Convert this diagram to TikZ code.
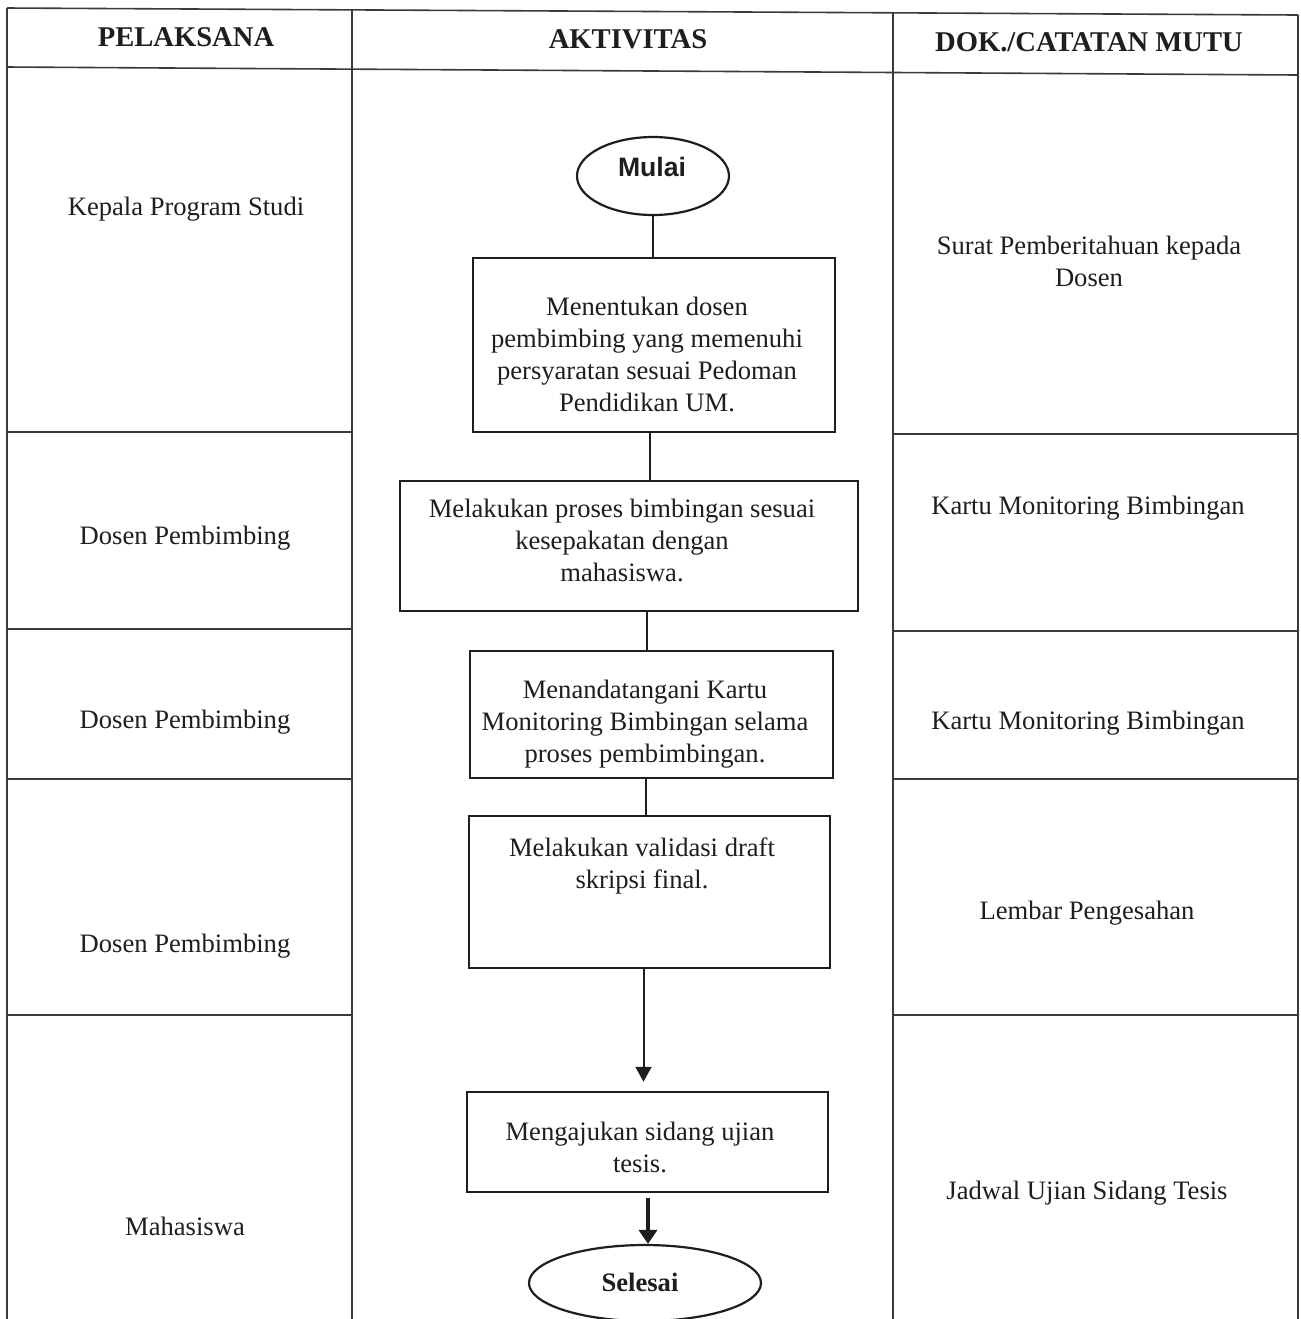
\documentclass[tikz,border=0pt]{standalone}
\usepackage{fontspec}
\setmainfont{Liberation Serif}
\newfontfamily\arialbold{Liberation Sans}
\usetikzlibrary{arrows.meta,calc,shapes.geometric}
\definecolor{ink}{HTML}{1E1E1E}
\definecolor{rule}{HTML}{3A3A3A}
\tikzset{
  gridline/.style={draw=rule,line width=0.8pt},
  procbox/.style={draw=ink,line width=1.25pt,rectangle,inner sep=0pt},
  terminal/.style={draw=ink,line width=1.1pt,ellipse,inner sep=0pt},
  txt/.style={text=ink,align=center,inner sep=0pt,font=\fontsize{13.3}{16}\selectfont},
  head/.style={text=ink,align=center,inner sep=0pt,font=\fontsize{14.3}{17}\selectfont\bfseries},
  conn/.style={draw=ink,line width=1pt},
  arr/.style={draw=ink,line width=1pt,-{Triangle[length=7.5pt,width=8pt]}},
  thickarr/.style={draw=ink,line width=2pt,-{Triangle[length=7pt,width=9pt]}}
}
\begin{document}
\begin{tikzpicture}[x=0.5pt,y=-0.5pt]
\useasboundingbox (0,0) rectangle (1301,1319);
\fill[white] (0,0) rectangle (1301,1319);
% table frame
\draw[gridline] (7,8) -- (1298,15);
\draw[gridline] (7,67) -- (1298,75);
\draw[gridline] (7,8) -- (7,1319);
\draw[gridline] (352,9) -- (352,1319);
\draw[gridline] (893,12) -- (893,1319);
\draw[gridline] (1298,15) -- (1298,1319);
% row lines left column
\draw[gridline] (7,432) -- (352,432);
\draw[gridline] (7,629) -- (352,629);
\draw[gridline] (7,779) -- (352,779);
\draw[gridline] (7,1015) -- (352,1015);
% row lines right column
\draw[gridline] (893,434) -- (1298,434);
\draw[gridline] (893,631) -- (1298,631);
\draw[gridline] (893,779) -- (1298,779);
\draw[gridline] (893,1015) -- (1298,1015);
% headers
\node[head] (hp) at (186,37) {PELAKSANA};
\node[head] (ha) at (628,39) {AKTIVITAS};
\node[head] (hd) at (1089,42) {DOK./CATATAN MUTU};
% left column
\node[txt] (p1) at (186,209) {Kepala Program Studi};
\node[txt] (p2) at (185,538) {Dosen Pembimbing};
\node[txt] (p3) at (185,722) {Dosen Pembimbing};
\node[txt] (p4) at (185,946) {Dosen Pembimbing};
\node[txt] (p5) at (185,1226) {Mahasiswa};
% right column
\node[txt] (d1) at (1089,261) {Surat Pemberitahuan kepada\\Dosen};
\node[txt] (d2) at (1088,508) {Kartu Monitoring Bimbingan};
\node[txt] (d3) at (1088,723) {Kartu Monitoring Bimbingan};
\node[txt] (d4) at (1087,913) {Lembar Pengesahan};
\node[txt] (d5) at (1087,1193) {Jadwal Ujian Sidang Tesis};
% flow
\node[terminal,minimum width=76pt,minimum height=39pt] (mulai) at (653,176) {};
\node[text=ink,inner sep=0pt,font=\arialbold\fontsize{13.3}{16}\selectfont\bfseries] (tmulai) at (652,167) {Mulai};
\node[procbox,minimum width=181pt,minimum height=87pt] (b1) at (654,345) {};
\node[txt] (t1) at (647,354) {Menentukan dosen\\pembimbing yang memenuhi\\persyaratan sesuai Pedoman\\Pendidikan UM.};
\node[procbox,minimum width=229pt,minimum height=65pt] (b2) at (629,546) {};
\node[txt] (t2) at (622,540) {Melakukan proses bimbingan sesuai\\kesepakatan dengan\\mahasiswa.};
\node[procbox,minimum width=181.5pt,minimum height=63.5pt] (b3) at (651.5,714.5) {};
\node[txt] (t3) at (645,724) {Menandatangani Kartu\\Monitoring Bimbingan selama\\proses pembimbingan.};
\node[procbox,minimum width=180.5pt,minimum height=76pt] (b4) at (649.5,892) {};
\node[txt] (t4) at (642,866) {Melakukan validasi draft\\skripsi final.};
\node[procbox,minimum width=180.5pt,minimum height=50pt] (b5) at (647.5,1142) {};
\node[txt] (t5) at (640,1147) {Mengajukan sidang ujian\\tesis.};
\node[terminal,minimum width=116pt,minimum height=38pt] (selesai) at (645,1283) {};
\node[text=ink,inner sep=0pt,font=\fontsize{13.3}{16}\selectfont\bfseries] (tsel) at (640,1282) {Selesai};
% connector start points
\coordinate (s1) at ($(b1.south)+(-4,0)$);
\coordinate (s2) at ($(b2.south)+(18,0)$);
\coordinate (s3) at ($(b3.south)+(-6,0)$);
\coordinate (s4) at ($(b4.south)+(-6,0)$);
\coordinate (s5) at ($(b5.south)+(0.5,0)$);
% connectors
\draw[conn] (mulai.south) -- (mulai.south |- b1.north);
\draw[conn] (s1) -- (s1 |- b2.north);
\draw[conn] (s2) -- (s2 |- b3.north);
\draw[conn] (s3) -- (s3 |- b4.north);
\draw[arr,shorten >=4.5pt] (s4) -- (s4 |- b5.north);
\draw[thickarr,shorten <=2.5pt] (s5) -- (s5 |- selesai.north);
\end{tikzpicture}
\end{document}
